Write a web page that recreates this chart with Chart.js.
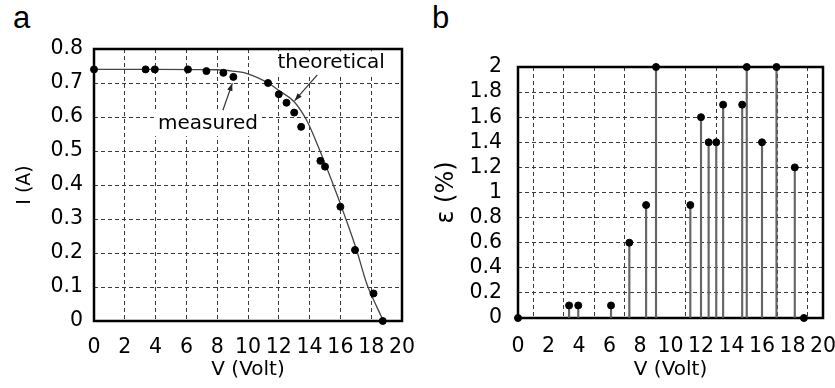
<!DOCTYPE html>
<html>
<head>
<meta charset="utf-8">
<script src="https://cdn.jsdelivr.net/npm/chart.js@4.4.1/dist/chart.umd.min.js"></script>
<style>
  body { margin: 0; background: #fff; width: 835px; height: 388px; position: relative; overflow: hidden; }
  .panel { position: absolute; top: 0; height: 388px; }
  #panelA { left: 0; width: 417px; }
  #panelB { left: 417px; width: 418px; }
  .tag { position: absolute; top: 2px; font: 31px/1 "Liberation Sans", Arial, sans-serif; color: #000; }
</style>
</head>
<body>
<div class="tag" style="left:13px">a</div>
<div class="tag" style="left:432px">b</div>
<div class="panel" id="panelA"><canvas id="chartA" width="417" height="388"></canvas></div>
<div class="panel" id="panelB"><canvas id="chartB" width="418" height="388"></canvas></div>
<script>
// measured points (shared voltages for both panels)
const voltage = [0, 3.35, 3.95, 6.1, 7.3, 8.4, 9.05, 11.3, 12.0, 12.5, 13.0, 13.45, 14.7, 15.0, 16.0, 16.95, 18.15, 18.75];
const currentMeasured = [0.74, 0.74, 0.74, 0.74, 0.735, 0.73, 0.718, 0.70, 0.667, 0.642, 0.613, 0.571, 0.471, 0.454, 0.336, 0.209, 0.081, 0];
const errorPct = [0, 0.1, 0.1, 0.1, 0.6, 0.9, 2, 0.9, 1.6, 1.4, 1.4, 1.7, 1.7, 2, 1.4, 2, 1.2, 0];

// theoretical curve
const theoV = [0, 4, 8, 9, 10, 11.3, 12, 13, 13.8, 14.65, 15.5, 16.3, 17.05, 17.7, 18.35, 18.8];
const theoI = [0.74, 0.74, 0.739, 0.735, 0.727, 0.70, 0.678, 0.645, 0.591, 0.503, 0.405, 0.307, 0.209, 0.111, 0.043, 0];

// axis ticks
const xTicks = [0, 2, 4, 6, 8, 10, 12, 14, 16, 18, 20];
const yTicksA = [0, 0.1, 0.2, 0.3, 0.4, 0.5, 0.6, 0.7, 0.8];
const yTicksB = [0, 0.2, 0.4, 0.6, 0.8, 1, 1.2, 1.4, 1.6, 1.8, 2];

const tickFont = { family: "DejaVu Sans", size: 20.5 };
const gridStyle = { color: "#3a3a3a", lineWidth: 1, drawTicks: false };

// full black frame around the plot area
const framePlugin = {
  id: "frame",
  beforeDatasetsDraw(chart) {
    const { ctx, chartArea: a } = chart;
    ctx.save();
    ctx.strokeStyle = "#000";
    ctx.lineWidth = 2.5;
    ctx.strokeRect(a.left, a.top, a.right - a.left, a.bottom - a.top);
    ctx.restore();
  }
};

function arrow(ctx, x1, y1, x2, y2) {
  ctx.beginPath();
  ctx.moveTo(x1, y1);
  ctx.lineTo(x2, y2);
  ctx.stroke();
  const ang = Math.atan2(y2 - y1, x2 - x1);
  ctx.beginPath();
  ctx.moveTo(x2, y2);
  ctx.lineTo(x2 - 8 * Math.cos(ang - 0.35), y2 - 8 * Math.sin(ang - 0.35));
  ctx.lineTo(x2 - 8 * Math.cos(ang + 0.35), y2 - 8 * Math.sin(ang + 0.35));
  ctx.closePath();
  ctx.fill();
}

const labelNotes = [
  { text: "theoretical", at: [15.4, 0.758], from: [14.5, 0.724], to: [13.03, 0.648] },
  { text: "measured", at: [7.4, 0.579], from: [8.37, 0.62], to: [8.98, 0.699] }
];

const notesPlugin = {
  id: "notes",
  beforeDatasetsDraw(chart) {
    const { ctx, scales: { x, y } } = chart;
    ctx.save();
    ctx.font = '20px "DejaVu Sans"';
    ctx.textAlign = "center";
    ctx.textBaseline = "middle";
    labelNotes.forEach(n => {
      const px = x.getPixelForValue(n.at[0]);
      const py = y.getPixelForValue(n.at[1]);
      const w = ctx.measureText(n.text).width;
      ctx.fillStyle = "#fff";
      ctx.fillRect(px - w / 2 - 3, py - 12, w + 6, 24);
      ctx.fillStyle = "#000";
      ctx.fillText(n.text, px, py);
    });
    ctx.strokeStyle = "#333";
    ctx.fillStyle = "#222";
    ctx.lineWidth = 1.2;
    labelNotes.forEach(n => {
      arrow(ctx, x.getPixelForValue(n.from[0]), y.getPixelForValue(n.from[1]),
        x.getPixelForValue(n.to[0]), y.getPixelForValue(n.to[1]));
    });
    ctx.restore();
  }
};

function xAxis(height, pad) {
  return {
    type: "linear", min: 0, max: 20, offset: false,
    afterBuildTicks: s => { s.ticks = xTicks.map(v => ({ value: v })); },
    afterFit: s => { s.height = height; s.paddingLeft = 0; s.paddingRight = 0; },
    ticks: { font: tickFont, color: "#000", padding: pad, maxRotation: 0, autoSkip: false },
    grid: gridStyle,
    border: { display: false, dash: [4, 3] },
    title: { display: true, text: "V (Volt)", font: { family: "DejaVu Sans", size: 20 }, color: "#000", padding: { top: 0, bottom: 6 } }
  };
}

function yAxis(max, ticks, width, pad, title, titleSize) {
  return {
    min: 0, max: max,
    afterBuildTicks: s => { s.ticks = ticks.map(v => ({ value: v })); },
    afterFit: s => { s.width = width; s.paddingTop = 0; s.paddingBottom = 0; },
    ticks: { font: tickFont, color: "#000", padding: pad, autoSkip: false, callback: v => String(v) },
    grid: gridStyle,
    border: { display: false, dash: [4, 3] },
    title: { display: true, text: title, font: { family: "DejaVu Sans", size: titleSize }, color: "#000", padding: { top: 4, bottom: 0 } }
  };
}

const pointsA = voltage.map((v, i) => ({ x: v, y: currentMeasured[i] }));
const curveA = theoV.map((v, i) => ({ x: v, y: theoI[i] }));

new Chart(document.getElementById("chartA"), {
  type: "scatter",
  data: {
    datasets: [
      { type: "line", data: curveA, borderColor: "#444", borderWidth: 1.3, pointRadius: 0, cubicInterpolationMode: "monotone", clip: false, order: 2 },
      { data: pointsA, backgroundColor: "#000", borderColor: "#000", pointRadius: 3.5, clip: false, order: 1 }
    ]
  },
  options: {
    responsive: false,
    animation: false,
    layout: { padding: { left: 10, right: 15, top: 49, bottom: 0 } },
    plugins: { legend: { display: false }, tooltip: { enabled: false } },
    scales: {
      x: xAxis(67, 14),
      y: yAxis(0.8, yTicksA, 84, 11, "I (A)", 19)
    }
  },
  plugins: [framePlugin, notesPlugin]
});

const pointsB = voltage.map((v, i) => ({ x: v, y: errorPct[i] }));

new Chart(document.getElementById("chartB"), {
  type: "scatter",
  data: {
    datasets: [
      { type: "bar", data: pointsB, backgroundColor: "#666", barThickness: 1.5, clip: false, order: 2 },
      { data: pointsB, backgroundColor: "#000", borderColor: "#000", pointRadius: 3.5, clip: false, order: 1 }
    ]
  },
  options: {
    responsive: false,
    animation: false,
    layout: { padding: { left: 11, right: 12, top: 67, bottom: 0 } },
    plugins: { legend: { display: false }, tooltip: { enabled: false } },
    scales: {
      x: xAxis(70, 16),
      y: yAxis(2, yTicksB, 90, 16, "ε (%)", 24)
    }
  },
  plugins: [framePlugin]
});
</script>
</body>
</html>
